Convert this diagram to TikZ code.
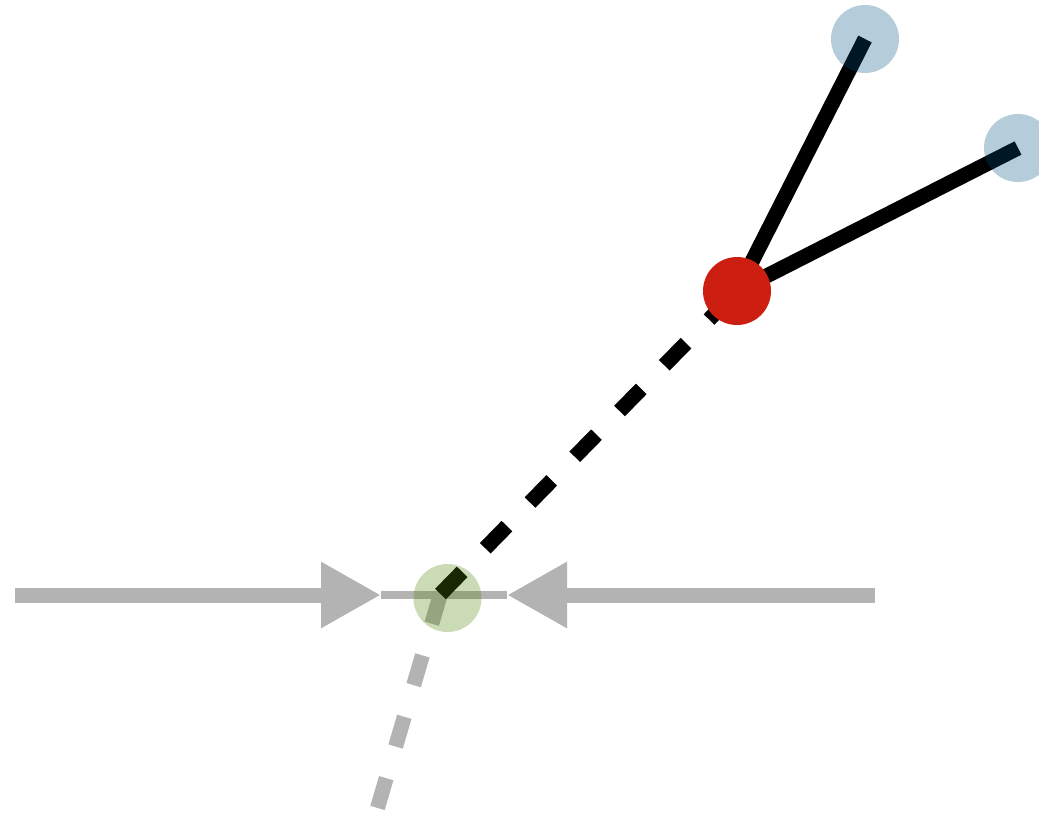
\documentclass[tikz,border=0pt]{standalone}
\usetikzlibrary{arrows.meta}

\definecolor{raygrey}{RGB}{179,179,179}
\definecolor{hitred}{RGB}{204,31,17}
\definecolor{tipblue}{RGB}{0,80,130}
\definecolor{hitgreen}{RGB}{80,135,10}

\tikzset{
    ray/.style={line width=0.15cm},
    raydash/.style={ray, dash pattern=on 0.31cm off 0.33cm},
    push/.style={ray, raygrey, -{Triangle[length=0.6cm,width=0.62cm]}},
}

\begin{document}
\begin{tikzpicture}
                \useasboundingbox (0, 0) rectangle (10.39, 8.13);

                \coordinate (hit) at (4.405, 2.19);
                \coordinate (low) at (3.76, 0);
                \coordinate (pivot) at (7.37, 5.22);
                \coordinate (tipa) at (8.65, 7.74);
                \coordinate (tipb) at (10.18, 6.65);
                \coordinate (centre) at (4.475, 2.15);

                \coordinate (lfrom) at (0.15, 2.18);
                \coordinate (lto) at (3.81, 2.18);
                \coordinate (rfrom) at (8.75, 2.18);
                \coordinate (rto) at (5.07, 2.18);

                \draw [push] (lfrom) to (lto);
                \draw [push] (rfrom) to (rto);
                \draw [raygrey, line width=0.08cm] (lto) to (rto);

                \draw [raydash, raygrey] (hit) to (low);
                \draw [raydash] (hit) to (pivot);
                \draw [ray] (pivot) to (tipa);
                \draw [ray] (pivot) to (tipb);

                \fill [hitgreen, opacity=0.3] (centre) circle [radius=0.34];
                \fill [tipblue, opacity=0.29] (tipa) circle [radius=0.34];
                \fill [tipblue, opacity=0.29] (tipb) circle [radius=0.34];
                \fill [hitred] (pivot) circle [radius=0.34];
            \end{tikzpicture}
\end{document}
